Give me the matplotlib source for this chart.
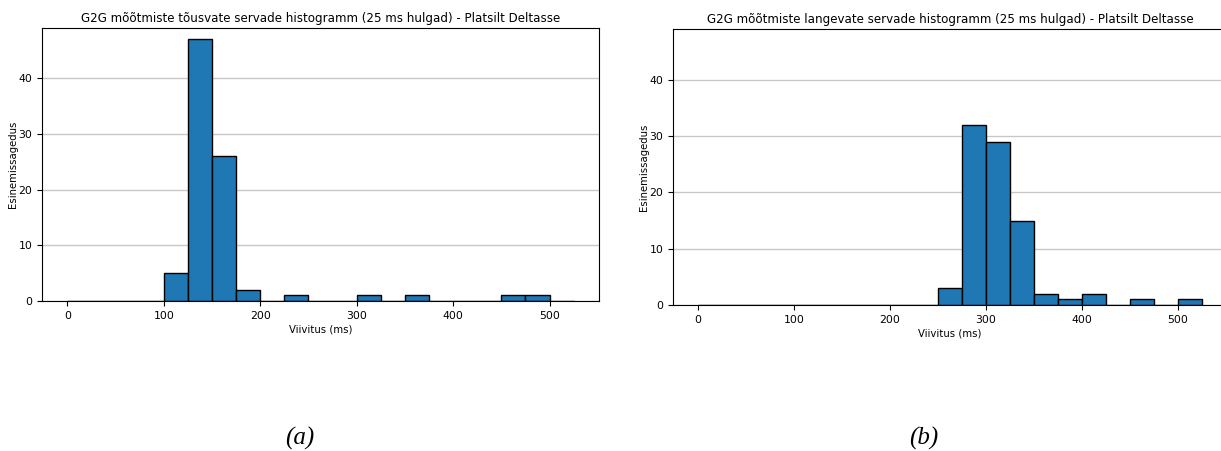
import numpy as np
import matplotlib.pyplot as plt

bin_edges = np.arange(0, 550, 25)
rising_counts = [0, 0, 0, 0, 5, 47, 26, 2, 0, 1, 0, 0, 1, 0, 1, 0, 0, 0, 1, 1, 0]
falling_counts = [0, 0, 0, 0, 0, 0, 0, 0, 0, 0, 3, 32, 29, 15, 2, 1, 2, 0, 1, 0, 1]

titles = ["G2G mõõtmiste tõusvate servade histogramm (25 ms hulgad) - Platsilt Deltasse",
          "G2G mõõtmiste langevate servade histogramm (25 ms hulgad) - Platsilt Deltasse"]
captions = ["(a)", "(b)"]

fig = plt.figure(figsize=(12.21, 4.51), dpi=100)
ax1 = fig.add_axes([0.0344, 0.3326, 0.4562, 0.6053])
ax2 = fig.add_axes([0.5512, 0.3237, 0.4537, 0.612])

for ax, counts, title in zip([ax1, ax2], [rising_counts, falling_counts], titles):
    ax.bar(bin_edges[:-1], counts, width=25, align='edge',
           color='#1f77b4', edgecolor='black', linewidth=1)
    ax.set_axisbelow(True)
    ax.yaxis.grid(True, color='#c8c8c8', linewidth=1)
    ax.set_xlim(-26.25, 551.25)
    ax.set_ylim(0, 49.0)
    ax.set_yticks([0, 10, 20, 30, 40])
    ax.set_title(title, fontsize=8.6, pad=4)
    ax.set_xlabel("Viivitus (ms)", fontsize=7.3, labelpad=3)
    ax.set_ylabel("Esinemissagedus", fontsize=7.3, labelpad=0)
    ax.tick_params(labelsize=7.8)

fig.text(300 / 1221, 1 - 438 / 451, captions[0], fontsize=18, style='italic',
         family='Liberation Serif', ha='center', va='center')
fig.text(924 / 1221, 1 - 438 / 451, captions[1], fontsize=18, style='italic',
         family='Liberation Serif', ha='center', va='center')

fig.savefig("out.png", dpi=100)
